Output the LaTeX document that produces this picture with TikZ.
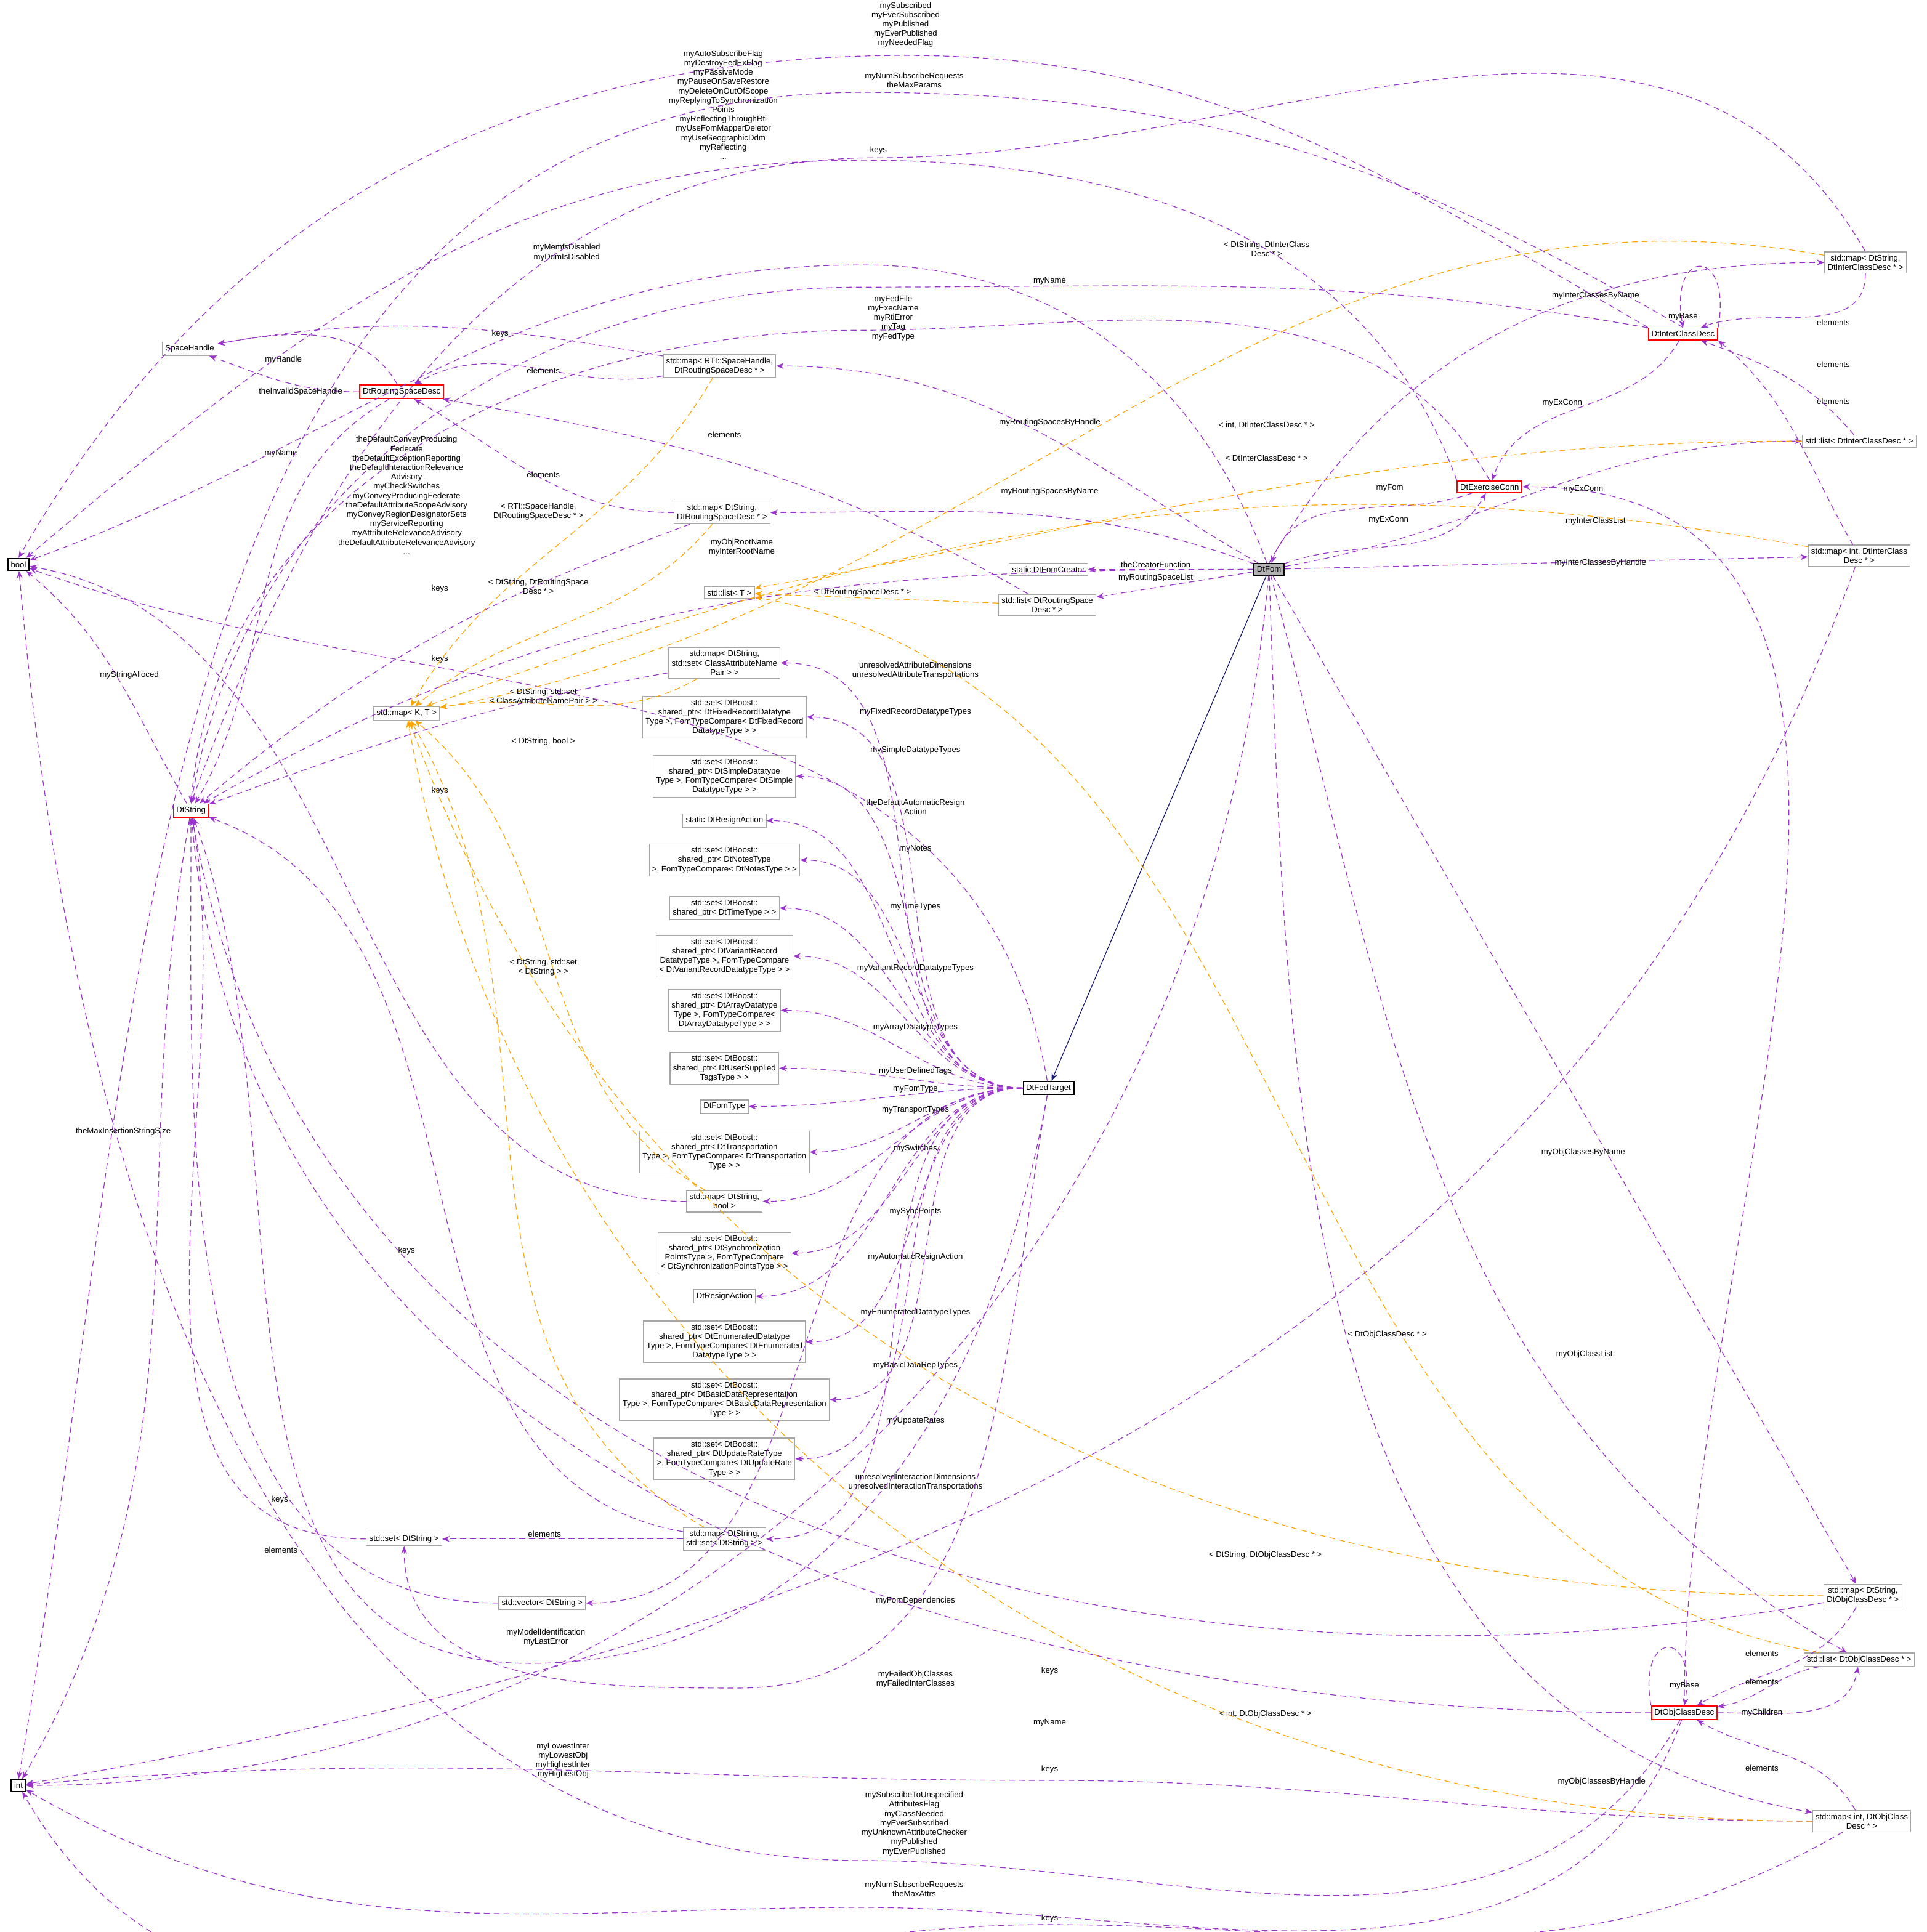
\documentclass[tikz,border=0pt]{standalone}
\usepackage{fontspec}
\setmainfont{Liberation Sans}
\usetikzlibrary{arrows.meta}
\definecolor{memc}{HTML}{9A32CD}
\definecolor{tplc}{HTML}{FFA500}
\definecolor{inhc}{HTML}{191970}
\begin{document}
\begin{tikzpicture}[x=0.25pt,y=-0.25pt,line width=0.15pt,
    every node/.style={font=\fontsize{1.65}{1.9}\selectfont},
    cls/.style={draw=gray!70,fill=white,align=center,inner sep=0.6pt},
    red/.style={cls,draw=red,line width=.22pt},
    blk/.style={cls,draw=black,line width=.22pt},
    lbl/.style={align=center,inner sep=0pt},
    mem/.style={draw=memc,dash pattern=on 1.2pt off 0.8pt,-{Stealth[length=1.5pt,width=1.2pt]}},
    tpl/.style={draw=tplc,dash pattern=on 1.2pt off 0.8pt,-{Stealth[length=1.5pt,width=1.2pt]}},
    inh/.style={draw=inhc,-{Stealth[length=1.5pt,width=1.2pt]}}]
  \useasboundingbox (0,0) rectangle (1564,1568);
  % classes
  \node[blk] (bool) at (15,458) {bool};
  \node[blk] (int) at (15,1449) {int};
  \node[cls] (sh) at (154,283) {SpaceHandle};
  \node[red] (rsd) at (326,318) {DtRoutingSpaceDesc};
  \node[red] (str) at (155,658) {DtString};
  \node[cls] (mapkt) at (330,579) {std::map< K, T >};
  \node[cls] (listt) at (592,481) {std::list< T >};
  \node[blk,fill=gray!60] (fom) at (1030,462) {DtFom};
  \node[blk] (fed) at (851,883) {DtFedTarget};
  \node[red] (icd) at (1366,271) {DtInterClassDesc};
  \node[red] (exc) at (1209,395) {DtExerciseConn};
  \node[red] (ocd) at (1367,1390) {DtObjClassDesc};
  \node[cls] (mapsic) at (1514,213) {std::map< DtString,\\DtInterClassDesc * >};
  \node[cls] (listic) at (1509,358) {std::list< DtInterClassDesc * >};
  \node[cls] (mapiic) at (1509,451) {std::map< int, DtInterClass\\Desc * >};
  \node[cls] (mapsoc) at (1512,1295) {std::map< DtString,\\DtObjClassDesc * >};
  \node[cls] (listoc) at (1509,1347) {std::list< DtObjClassDesc * >};
  \node[cls] (mapioc) at (1511,1478) {std::map< int, DtObjClass\\Desc * >};
  \node[cls] (maphrs) at (584,297) {std::map< RTI::SpaceHandle,\\DtRoutingSpaceDesc * >};
  \node[cls] (mapsrs) at (586,416) {std::map< DtString,\\DtRoutingSpaceDesc * >};
  \node[cls] (creator) at (851,462) {static DtFomCreator};
  \node[cls] (listrs) at (850,491) {std::list< DtRoutingSpace\\Desc * >};
  \node[cls] (mapcan) at (588,538) {std::map< DtString,\\std::set< ClassAttributeName\\Pair > >};
  \node[cls] (sfixed) at (588,582) {std::set< DtBoost::\\shared\_ptr< DtFixedRecordDatatype\\Type >, FomTypeCompare< DtFixedRecord\\DatatypeType > >};
  \node[cls] (ssimple) at (588,630) {std::set< DtBoost::\\shared\_ptr< DtSimpleDatatype\\Type >, FomTypeCompare< DtSimple\\DatatypeType > >};
  \node[cls] (sresign) at (588,666) {static DtResignAction};
  \node[cls] (snotes) at (588,698) {std::set< DtBoost::\\shared\_ptr< DtNotesType\\ >, FomTypeCompare< DtNotesType > >};
  \node[cls] (stime) at (588,737) {std::set< DtBoost::\\shared\_ptr< DtTimeType > >};
  \node[cls] (svariant) at (588,776) {std::set< DtBoost::\\shared\_ptr< DtVariantRecord\\DatatypeType >, FomTypeCompare\\< DtVariantRecordDatatypeType > >};
  \node[cls] (sarray) at (588,820) {std::set< DtBoost::\\shared\_ptr< DtArrayDatatype\\Type >, FomTypeCompare<\\DtArrayDatatypeType > >};
  \node[cls] (stags) at (588,867) {std::set< DtBoost::\\shared\_ptr< DtUserSupplied\\TagsType > >};
  \node[cls] (fomtype) at (588,898) {DtFomType};
  \node[cls] (strans) at (588,935) {std::set< DtBoost::\\shared\_ptr< DtTransportation\\Type >, FomTypeCompare< DtTransportation\\Type > >};
  \node[cls] (mapsb) at (588,975) {std::map< DtString,\\bool >};
  \node[cls] (ssync) at (588,1017) {std::set< DtBoost::\\shared\_ptr< DtSynchronization\\PointsType >, FomTypeCompare\\< DtSynchronizationPointsType > >};
  \node[cls] (resign) at (588,1052) {DtResignAction};
  \node[cls] (senum) at (588,1089) {std::set< DtBoost::\\shared\_ptr< DtEnumeratedDatatype\\Type >, FomTypeCompare< DtEnumerated\\DatatypeType > >};
  \node[cls] (sbasic) at (588,1136) {std::set< DtBoost::\\shared\_ptr< DtBasicDataRepresentation\\Type >, FomTypeCompare< DtBasicDataRepresentation\\Type > >};
  \node[cls] (supdate) at (588,1184) {std::set< DtBoost::\\shared\_ptr< DtUpdateRateType\\ >, FomTypeCompare< DtUpdateRate\\Type > >};
  \node[cls] (mapss) at (588,1249) {std::map< DtString,\\std::set< DtString > >};
  \node[cls] (sets) at (328,1249) {std::set< DtString >};
  \node[cls] (vecs) at (440,1301) {std::vector< DtString >};
  % inheritance
  \draw[inh] (fom) -- (fed);
  % members of DtFom and friends
  \draw[mem] (fom) to[out=110,in=0] (700,215) to[out=180,in=20] (bool);
  \node[lbl] at (460,205) {myMemfsDisabled\\myDdmIsDisabled};
  \draw[mem] (icd.north west) to[out=150,in=0] (735,45) to[out=180,in=60] (bool.north);
  \node[lbl] at (735,20) {mySubscribed\\myEverSubscribed\\myPublished\\myEverPublished\\myNeededFlag};
  \draw[mem] (exc.north west) to[out=110,in=0] (700,130) to[out=180,in=40] (bool);
  \node[lbl] at (587,85) {myAutoSubscribeFlag\\myDestroyFedExFlag\\myPassiveMode\\myPauseOnSaveRestore\\myDeleteOnOutOfScope\\myReplyingToSynchronization\\Points\\myReflectingThroughRti\\myUseFomMapperDeletor\\myUseGeographicDdm\\myReflecting\\...};
  \draw[mem] (icd.north) to[out=150,in=0] (700,75) to[out=180,in=80] (int.north);
  \node[lbl] at (742,65) {myNumSubscribeRequests\\theMaxParams};
  \draw[mem] (mapsic.north) to[out=120,in=0] (713,128) to[out=180,in=70] (str.north);
  \node[lbl] at (713,122) {keys};
  \draw[mem] (icd) to[out=170,in=0] (700,233) to[out=180,in=80] (str.north);
  \node[lbl] at (852,228) {myName};
  \draw[mem] (exc.north) to[out=120,in=0] (700,268) to[out=180,in=85] (str.north);
  \node[lbl] at (725,258) {myFedFile\\myExecName\\myRtiError\\myTag\\myFedType};
  \draw[mem] (fom.north) to[out=60,in=180] (mapsic.west);
  \node[lbl] at (1295,240) {myInterClassesByName};
  \draw[mem] (icd.north east) to[out=80,in=100,looseness=6] (icd.north);
  \node[lbl] at (1366,257) {myBase};
  \draw[mem] (mapsic) to[out=-90,in=20] (icd);
  \node[lbl] at (1488,262) {elements};
  \draw[mem] (listic) to[out=130,in=-20] (icd);
  \node[lbl] at (1488,296) {elements};
  \draw[mem] (mapiic) to[out=120,in=-40] (icd.south east);
  \node[lbl] at (1488,326) {elements};
  \draw[mem] (icd) to[out=-120,in=70] (exc);
  \node[lbl] at (1268,327) {myExConn};
  \draw[mem] (exc) to[out=200,in=70] (fom);
  \node[lbl] at (1128,396) {myFom};
  \draw[mem] (fom) to[out=20,in=-120] (exc);
  \node[lbl] at (1127,422) {myExConn};
  \draw[mem] (ocd.north) to[out=90,in=0] (exc.east);
  \node[lbl] at (1285,397) {myExConn};
  \draw[mem] (fom) to[out=10,in=180] (listic);
  \node[lbl] at (1295,423) {myInterClassList};
  \draw[mem] (fom) -- (mapiic);
  \node[lbl] at (1299,457) {myInterClassesByHandle};
  \draw[mem] (fom) -- (creator);
  \node[lbl] at (938,458) {theCreatorFunction};
  \draw[mem] (fom) -- (listrs);
  \node[lbl] at (938,469) {myRoutingSpaceList};
  \draw[mem] (fom) to[out=150,in=0] (maphrs);
  \node[lbl] at (852,343) {myRoutingSpacesByHandle};
  \draw[mem] (fom) to[out=160,in=0] (mapsrs);
  \node[lbl] at (852,399) {myRoutingSpacesByName};
  \draw[mem] (maphrs) to[out=170,in=10] (sh);
  \node[lbl] at (406,271) {keys};
  \draw[mem] (maphrs) to[out=190,in=30] (rsd);
  \node[lbl] at (441,301) {elements};
  \draw[mem] (rsd) to[out=120,in=10] (sh);
  \node[lbl] at (230,292) {myHandle};
  \draw[mem] (rsd) to[out=180,in=-20] (sh);
  \node[lbl] at (244,318) {theInvalidSpaceHandle};
  \draw[mem] (mapsrs) to[out=180,in=-30] (rsd);
  \node[lbl] at (441,385) {elements};
  \draw[mem] (listrs) to[out=150,in=-10] (rsd);
  \node[lbl] at (588,353) {elements};
  \draw[mem] (rsd) to[out=-150,in=60] (str);
  \node[lbl] at (228,368) {myName};
  \draw[mem] (mapsrs) to[out=200,in=40] (str);
  \node[lbl] at (357,478) {keys};
  \draw[mem] (fed) to[out=100,in=-20] (bool);
  \node[lbl] at (330,402) {theDefaultConveyProducing\\Federate\\theDefaultExceptionReporting\\theDefaultInteractionRelevance\\Advisory\\myCheckSwitches\\myConveyProducingFederate\\theDefaultAttributeScopeAdvisory\\myConveyRegionDesignatorSets\\myServiceReporting\\myAttributeRelevanceAdvisory\\theDefaultAttributeRelevanceAdvisory\\...};
  \draw[mem] (fom) to[out=180,in=30] (str);
  \node[lbl] at (602,444) {myObjRootName\\myInterRootName};
  \draw[mem] (mapcan) to[out=190,in=20] (str);
  \node[lbl] at (357,535) {keys};
  \draw[mem] (str) to[out=120,in=-40] (bool);
  \node[lbl] at (105,548) {myStringAlloced};
  \draw[mem] (str) to[out=-100,in=60] (int);
  \node[lbl] at (100,918) {theMaxInsertionStringSize};
  \draw[mem] (mapsb) to[out=180,in=-10] (bool);
  \node[lbl] at (357,642) {keys};
  \draw[mem] (mapss) to[out=170,in=-20] (str);
  \node[lbl] at (330,1015) {keys};
  \draw[mem] (sets) to[out=180,in=-80] (str);
  \node[lbl] at (227,1217) {keys};
  \draw[mem] (mapss) -- (sets);
  \node[lbl] at (442,1245) {elements};
  \draw[mem] (vecs) to[out=180,in=-90] (str);
  \node[lbl] at (228,1258) {elements};
  % members of DtFedTarget
  \foreach \dst/\ly/\txt in {
      mapcan/544/{unresolvedAttributeDimensions\\unresolvedAttributeTransportations},
      sfixed/578/myFixedRecordDatatypeTypes, ssimple/609/mySimpleDatatypeTypes,
      sresign/655/{theDefaultAutomaticResign\\Action}, snotes/689/myNotes,
      stime/736/myTimeTypes, svariant/786/myVariantRecordDatatypeTypes,
      sarray/834/myArrayDatatypeTypes, stags/869/myUserDefinedTags,
      fomtype/884/myFomType, strans/901/myTransportTypes, mapsb/932/mySwitches,
      ssync/983/mySyncPoints, resign/1020/myAutomaticResignAction,
      senum/1065/myEnumeratedDatatypeTypes, sbasic/1108/myBasicDataRepTypes,
      supdate/1153/myUpdateRates,
      mapss/1203/{unresolvedInteractionDimensions\\unresolvedInteractionTransportations},
      vecs/1299/myFomDependencies}{
    \draw[mem] (fed) to[out=180,in=0] (\dst);
    \node[lbl] at (743,\ly) {\txt};
  }
  \draw[mem] (fed) to[out=-100,in=0] (430,1350) to[out=180,in=-70] (str);
  \node[lbl] at (443,1329) {myModelIdentification\\myLastError};
  \draw[mem] (fed) to[out=-100,in=0] (600,1370) to[out=180,in=-90] (sets);
  \node[lbl] at (743,1363) {myFailedObjClasses\\myFailedInterClasses};
  \draw[mem] (fom) to[out=-95,in=0] (int);
  \node[lbl] at (457,1429) {myLowestInter\\myLowestObj\\myHighestInter\\myHighestObj};
  \draw[mem] (mapsoc) to[out=190,in=-80] (str);
  \node[lbl] at (852,1356) {keys};
  \draw[mem] (ocd) to[out=180,in=-85] (str);
  \node[lbl] at (852,1398) {myName};
  \draw[mem] (ocd) to[out=-110,in=0] (700,1548) to[out=180,in=-30] (int);
  \node[lbl] at (742,1533) {myNumSubscribeRequests\\theMaxAttrs};
  \draw[mem] (ocd) to[out=-120,in=0] (700,1510) to[out=180,in=-85] (bool);
  \node[lbl] at (742,1480) {mySubscribeToUnspecified\\AttributesFlag\\myClassNeeded\\myEverSubscribed\\myUnknownAttributeChecker\\myPublished\\myEverPublished};
  \draw[mem] (mapioc) to[out=180,in=0] (850,1445) to[out=180,in=5] (int);
  \node[lbl] at (852,1436) {keys};
  \draw[mem] (mapioc) to[out=-150,in=0] (850,1562) to[out=180,in=-60] (int);
  \node[lbl] at (852,1557) {keys};
  \draw[mem] (mapiic) to[out=-110,in=10] (int);
  \draw[mem] (fom) to[out=-60,in=120] (mapsoc);
  \node[lbl] at (1285,935) {myObjClassesByName};
  \draw[mem] (fom) to[out=-75,in=150] (listoc);
  \node[lbl] at (1286,1099) {myObjClassList};
  \draw[mem] (fom) to[out=-88,in=170] (mapioc);
  \node[lbl] at (1300,1446) {myObjClassesByHandle};
  \draw[mem] (ocd.north west) to[out=100,in=80,looseness=6] (ocd.north);
  \node[lbl] at (1367,1368) {myBase};
  \draw[mem] (ocd) to[out=0,in=-100] (listoc);
  \node[lbl] at (1430,1390) {myChildren};
  \draw[mem] (mapsoc) to[out=-120,in=30] (ocd);
  \node[lbl] at (1430,1342) {elements};
  \draw[mem] (listoc) to[out=190,in=10] (ocd);
  \node[lbl] at (1430,1365) {elements};
  \draw[mem] (mapioc) to[out=120,in=-30] (ocd);
  \node[lbl] at (1430,1435) {elements};
  % template instances
  \draw[tpl] (mapsic) to[out=170,in=10] (mapkt);
  \node[lbl] at (1028,202) {< DtString, DtInterClass\\Desc * >};
  \draw[tpl] (mapiic) to[out=170,in=20] (mapkt);
  \node[lbl] at (1028,345) {< int, DtInterClassDesc * >};
  \draw[tpl] (maphrs) to[out=-120,in=60] (mapkt);
  \node[lbl] at (437,415) {< RTI::SpaceHandle,\\DtRoutingSpaceDesc * >};
  \draw[tpl] (mapsrs) to[out=-130,in=40] (mapkt);
  \node[lbl] at (437,476) {< DtString, DtRoutingSpace\\Desc * >};
  \draw[tpl] (mapcan) to[out=-150,in=10] (mapkt);
  \node[lbl] at (441,565) {< DtString, std::set\\< ClassAttributeNamePair > >};
  \draw[tpl] (mapsb) to[out=150,in=-40] (mapkt);
  \node[lbl] at (441,602) {< DtString, bool >};
  \draw[tpl] (mapss) to[out=150,in=-60] (mapkt);
  \node[lbl] at (441,785) {< DtString, std::set\\< DtString > >};
  \draw[tpl] (mapsoc) to[out=180,in=-70] (mapkt);
  \node[lbl] at (1027,1262) {< DtString, DtObjClassDesc * >};
  \draw[tpl] (mapioc) to[out=180,in=-80] (mapkt);
  \node[lbl] at (1027,1391) {< int, DtObjClassDesc * >};
  \draw[tpl] (listic) to[out=180,in=10] (listt);
  \node[lbl] at (1028,372) {< DtInterClassDesc * >};
  \draw[tpl] (listrs) -- (listt);
  \node[lbl] at (700,481) {< DtRoutingSpaceDesc * >};
  \draw[tpl] (listoc) to[out=170,in=-10] (listt);
  \node[lbl] at (1126,1083) {< DtObjClassDesc * >};
\end{tikzpicture}
\end{document}
